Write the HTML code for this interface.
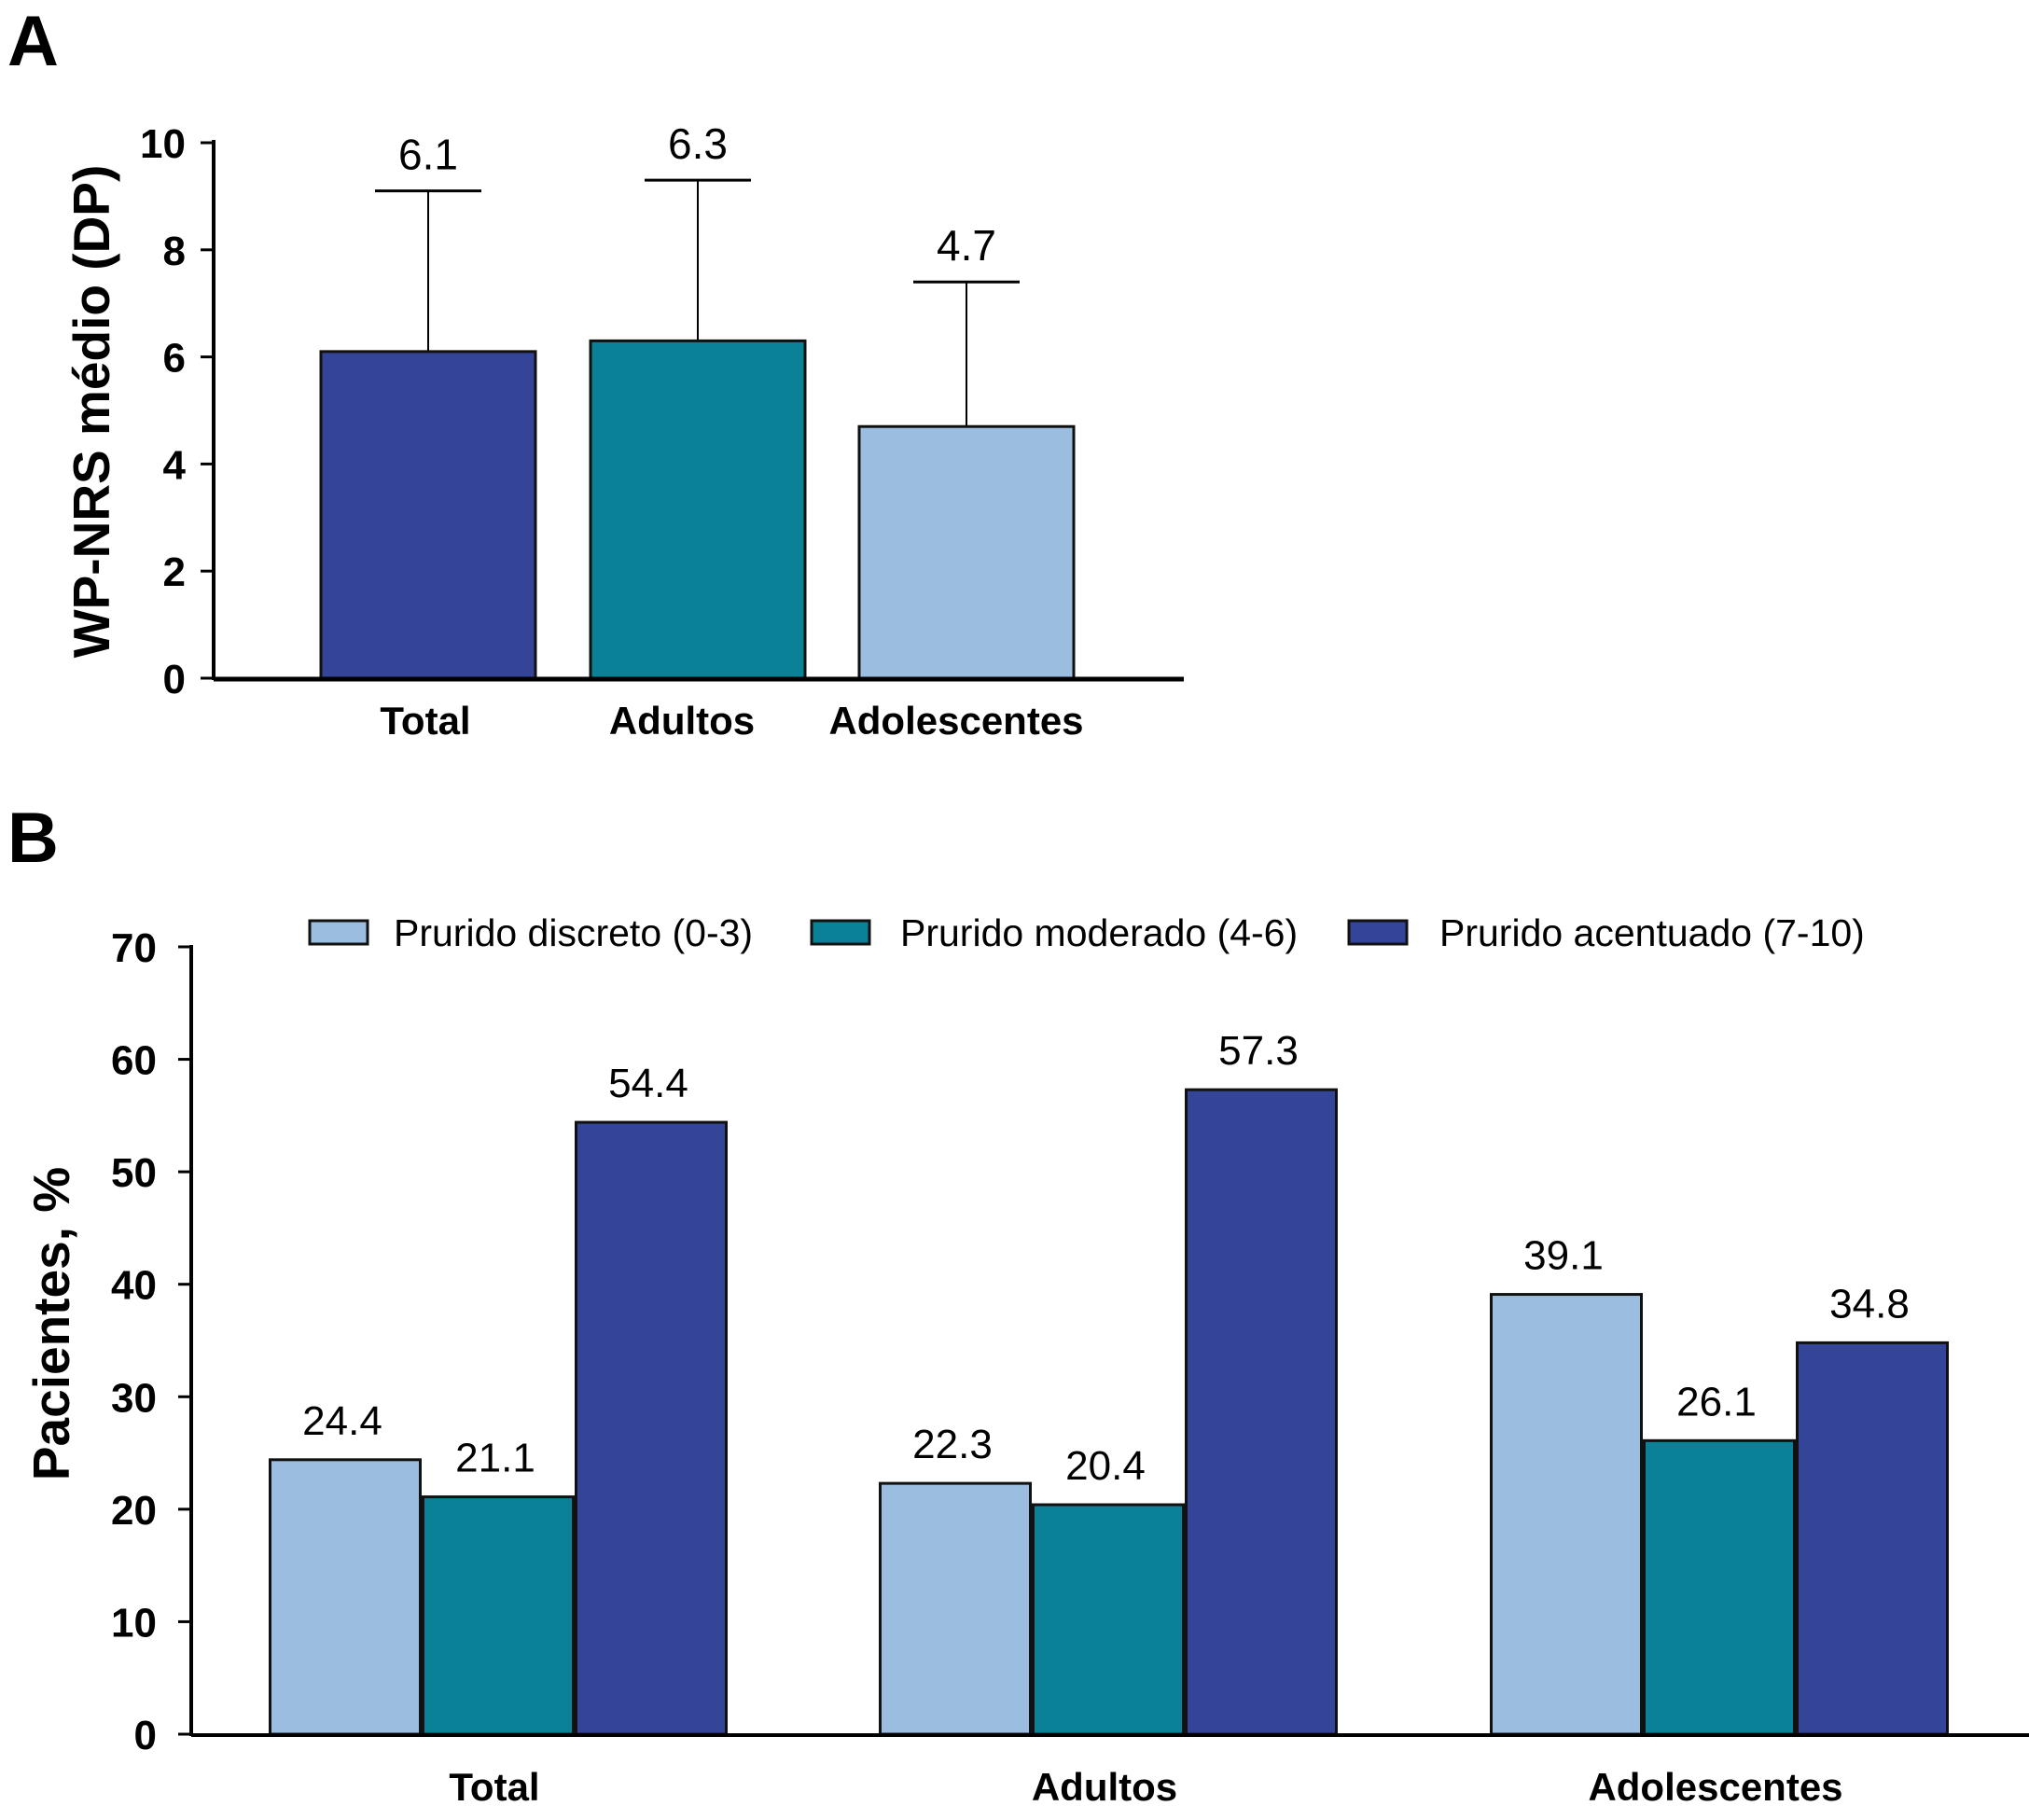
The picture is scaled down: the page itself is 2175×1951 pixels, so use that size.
<!DOCTYPE html>
<html><head><meta charset="utf-8"><style>
body{margin:0;background:#fff}
svg{display:block;font-family:"Liberation Sans",sans-serif}
</style></head><body>
<svg width="2175" height="1951" viewBox="0 0 2175 1951">
<g id="A"></g>
<g id="B"></g>
</svg>
<script>
const NS='http://www.w3.org/2000/svg';
function mk(p,t,a,txt){const e=document.createElementNS(NS,t);for(const k in a)e.setAttribute(k,a[k]);if(txt!==undefined)e.textContent=txt;p.appendChild(e);return e;}
// Panel A data
const catsA=['Total','Adultos','Adolescentes'];
const meansA=[6.1,6.3,4.7];
const sdA=[3.0,3.0,2.7];
const colorsA=['#334499','#0b8198','#9bbde0'];
const ticksA=[0,2,4,6,8,10];
// Panel B data
const catsB=['Total','Adultos','Adolescentes'];
const seriesB=['Prurido discreto (0-3)','Prurido moderado (4-6)','Prurido acentuado (7-10)'];
const discreto=[24.4,22.3,39.1];
const moderado=[21.1,20.4,26.1];
const acentuado=[54.4,57.3,34.8];
const colorsB=['#9bbde0','#0b8198','#334499'];
const ticksB=[0,10,20,30,40,50,60,70];

(function(){
const g=document.getElementById('A');
const y=v=>727-(v/10)*574, x0=229;
const lab=mk(g,'text',{x:8,y:70,'font-size':76,'font-weight':'bold'},'A');

const t=mk(g,'text',{transform:'translate(117,441) rotate(-90)','text-anchor':'middle','font-size':55,'font-weight':'bold'},'WP-NRS médio (DP)');

ticksA.forEach(v=>{mk(g,'line',{x1:x0-14,x2:x0,y1:y(v),y2:y(v),stroke:'#000','stroke-width':3});
const tl=mk(g,'text',{x:199,y:y(v)+16,'text-anchor':'end','font-size':44,'font-weight':'bold'},v);
});
const bw=230,cs=[459,748,1036];
meansA.forEach((m,i)=>{const cx=cs[i];
const top=y(m+sdA[i]);
mk(g,'line',{x1:cx,x2:cx,y1:top,y2:y(m),stroke:'#000','stroke-width':2});
mk(g,'line',{x1:cx-57,x2:cx+57,y1:top,y2:top,stroke:'#000','stroke-width':3});
const r=mk(g,'rect',{x:cx-bw/2,y:y(m),width:bw,height:y(0)-y(m),fill:colorsA[i],stroke:'#111','stroke-width':3});

const vl=mk(g,'text',{x:cx,y:top-23,'text-anchor':'middle','font-size':46},m.toFixed(1));

const cl=mk(g,'text',{x:cx-(i==0?3:i==1?17:11),y:787,'text-anchor':'middle','font-size':42,'font-weight':'bold'},catsA[i]);
});
mk(g,'line',{x1:x0,x2:x0,y1:150,y2:729,stroke:'#000','stroke-width':4});
const ax=mk(g,'line',{x1:x0,x2:1269,y1:728,y2:728,stroke:'#000','stroke-width':5});

})();

(function(){
const g=document.getElementById('B');
const y=v=>1859-(v/70)*844, x0=205;
const lab=mk(g,'text',{x:8,y:924,'font-size':76,'font-weight':'bold'},'B');

const t=mk(g,'text',{transform:'translate(74,1419) rotate(-90)','text-anchor':'middle','font-size':55,'font-weight':'bold'},'Pacientes, %');

ticksB.forEach(v=>{mk(g,'line',{x1:x0-14,x2:x0,y1:y(v),y2:y(v),stroke:'#000','stroke-width':3});
const tl=mk(g,'text',{x:168,y:y(v)+16,'text-anchor':'end','font-size':44,'font-weight':'bold'},v);
});
const series=[discreto,moderado,acentuado];
const centers=[534,1188,1843],bw=161,step=164;
catsB.forEach((c,i)=>{
series.forEach((s,j)=>{const cx=centers[i]+(j-1)*step;const v=s[i];
const r=mk(g,'rect',{x:cx-bw/2,y:y(v),width:bw,height:y(0)-y(v),fill:colorsB[j],stroke:'#111','stroke-width':3});

const vl=mk(g,'text',{x:cx-3,y:y(v)-27,'text-anchor':'middle','font-size':44},v.toFixed(1));
});
const cl=mk(g,'text',{x:centers[i]-4,y:1930,'text-anchor':'middle','font-size':42,'font-weight':'bold'},c);
});
mk(g,'line',{x1:x0,x2:x0,y1:1013,y2:1861,stroke:'#000','stroke-width':4});
const ax=mk(g,'line',{x1:x0,x2:2175,y1:1860,y2:1860,stroke:'#000','stroke-width':4});

const bx=[332,870,1446],tx=[422,965,1543];
seriesB.forEach((s,j)=>{
const lg=mk(g,'g',{});

mk(lg,'rect',{x:bx[j],y:987,width:62,height:25,fill:colorsB[j],stroke:'#111','stroke-width':3});
mk(lg,'text',{x:tx[j],y:1014,'font-size':41},s);});
})();
</script>
</body></html>
